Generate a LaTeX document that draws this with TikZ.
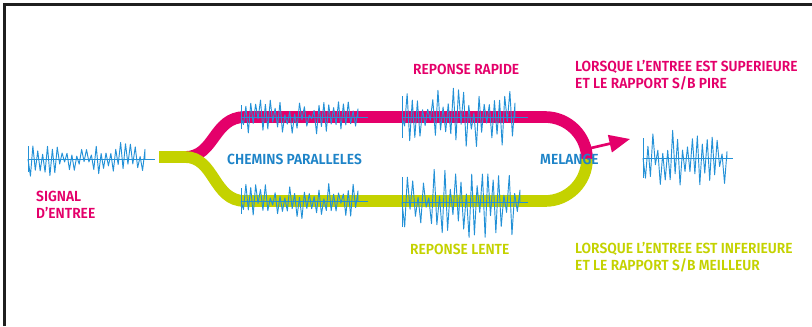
\documentclass[tikz,border=0pt]{standalone}
\usepackage{fontspec}
\setmainfont{Fira Sans}[FakeStretch=0.94, BoldFont={Fira Sans SemiBold}]
\usetikzlibrary{arrows.meta}

\definecolor{pathpink}{RGB}{228,0,106}
\definecolor{pathlime}{RGB}{196,210,0}
\definecolor{waveblue}{RGB}{35,145,215}
\definecolor{labelblue}{RGB}{30,132,200}

% baseline from #1 to #2, spikes up to #3, at height #4, amplitude #5, #6 spikes, seed #7
\newcommand{\noisewave}[7]{%
  \pgfmathsetseed{#7}
  \draw[wave] (#1,#4) -- (#2,#4);
  \draw[wave] (#1,{#4-0.7*#5}) -- (#1,{#4+0.7*#5});
  \draw[wave] (#1,#4) \foreach \k in {1,...,#6}{ -- ({#1+(#3-#1)*\k/#6},{#4+#5*(2*mod(\k,2)-1)*(0.1+0.9*rnd)}) } -- (#3,#4);
}

\begin{document}
\begin{tikzpicture}[x=0.03cm, y=-0.03cm,
  band/.style={line width=0.35cm},
  wave/.style={waveblue, line width=0.8pt, line join=round},
  lbl/.style={font=\bfseries\fontsize{12.5}{15}\selectfont, inner sep=0pt, anchor=west, align=left}]
  \useasboundingbox (0,0) rectangle (812,326);
  \draw[black!88, line width=0.09cm] (4.5,326) -- (4.5,4.5) -- (812,4.5);

  \coordinate (split) at (185,157);
  \coordinate (fast) at (245,117);
  \coordinate (slow) at (245,201);
  \coordinate (tail) at (591,148);
  \coordinate (tip) at (630,139);

  % fast and slow paths
  \draw[band, pathpink] (split) .. controls (215,157) and (213,117) .. (fast) -- (545,117) arc[start angle=-90, end angle=0, radius=42];
  \draw[band, pathlime] (159,157) -- (split) .. controls (215,157) and (213,201) .. (slow) -- (545,201) arc[start angle=90, end angle=0, radius=42];
  \draw[pathpink, line width=0.08cm, -{Triangle[length=0.62cm, width=0.52cm]}] (tail) -- (tip);

  % signals
  \noisewave{28}{155}{145}{159}{18}{48}{11}
  \noisewave{241}{368}{358}{117}{17}{48}{23}
  \noisewave{241}{368}{358}{201}{18}{48}{37}
  \noisewave{402}{528}{515}{117}{30}{44}{41}
  \noisewave{402}{528}{520}{202}{36}{44}{53}
  \noisewave{643}{733}{727}{158}{28}{34}{67}

  \node[lbl, text=pathpink] (signal) at (36,205) {SIGNAL\\D’ENTREE};
  \node[lbl, text=labelblue] (chemins) at (227,159) {CHEMINS PARALLELES};
  \node[lbl, text=pathpink] (rapide) at (413,69) {REPONSE RAPIDE};
  \node[lbl, text=pathlime] (lente) at (410,249) {REPONSE LENTE};
  \node[lbl, text=labelblue] (melange) at (540,159) {MELANGE};
  \node[lbl, text=pathpink] (sup) at (575,75) {LORSQUE L’ENTREE EST SUPERIEURE\\ET LE RAPPORT S/B PIRE};
  \node[lbl, text=pathlime] (inf) at (575,257) {LORSQUE L’ENTREE EST INFERIEURE\\ET LE RAPPORT S/B MEILLEUR};
\end{tikzpicture}
\end{document}
